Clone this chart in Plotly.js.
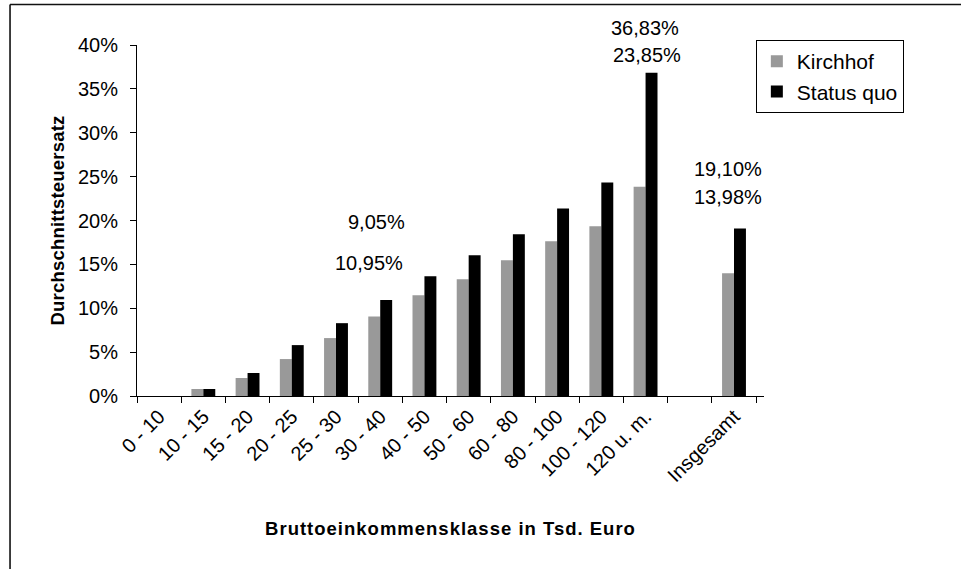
<!DOCTYPE html>
<html>
<head>
<meta charset="utf-8">
<script src="https://cdn.plot.ly/plotly-3.0.1.min.js"></script>
<style>
  html, body { margin: 0; padding: 0; background: #fff; }
  #chart { width: 961px; height: 569px; }
  #chart .xtitle { letter-spacing: 1px; }
  #chart .ytitle { letter-spacing: 0.2px; }
</style>
</head>
<body>
<div id="chart"></div>
<script>
// ---- data ----
const categories = ["0 - 10", "10 - 15", "15 - 20", "20 - 25", "25 - 30", "30 - 40",
                    "40 - 50", "50 - 60", "60 - 80", "80 - 100", "100 - 120", "120 u. m.",
                    " ", "Insgesamt"];
const kirchhof  = [0, 0.80, 2.05, 4.21, 6.60, 9.05, 11.49, 13.31, 15.47, 17.63, 19.34, 23.85, null, 13.98];
const statusQuo = [0, 0.80, 2.62, 5.80, 8.30, 10.95, 13.65, 16.04, 18.43, 21.38, 24.34, 36.83, null, 19.10];
const seriesNames = ["Kirchhof", "Status quo"];
const yTickVals = [0, 5, 10, 15, 20, 25, 30, 35, 40];
const yTickText = ["0%", "5%", "10%", "15%", "20%", "25%", "30%", "35%", "40%"];

// which data labels are shown (category index, series)
const labelled = [
  {cat: 5,  series: "K"}, {cat: 5,  series: "S"},
  {cat: 11, series: "S"}, {cat: 11, series: "K"},
  {cat: 13, series: "S"}, {cat: 13, series: "K"}
];
// label placement (as in the original Excel chart, labels float above the bars)
const labelPlacement = [
  {y: 19.8, xshift: -4}, {y: 15.15, xshift: -11},
  {y: 41.97, xshift: -1}, {y: 38.86, xshift: 1},
  {y: 25.87, xshift: -6}, {y: 22.65, xshift: -6}
];
const Y_MAX = 40;

const FONT = "'Liberation Sans', Arial, sans-serif";
const fmt = v => v.toFixed(2).replace('.', ',') + '%';

const traces = [
  {type: 'bar', name: seriesNames[0], x: categories, y: kirchhof,
   marker: {color: '#999999', line: {width: 0}}, hoverinfo: 'skip'},
  {type: 'bar', name: seriesNames[1], x: categories, y: statusQuo,
   marker: {color: '#000000', line: {width: 0}}, hoverinfo: 'skip'}
];

const annotations = labelled.map((l, i) => {
  const v = l.series === "K" ? kirchhof[l.cat] : statusQuo[l.cat];
  return {
    xref: 'x', yref: 'paper', x: categories[l.cat], y: labelPlacement[i].y / Y_MAX,
    xshift: labelPlacement[i].xshift,
    text: fmt(v), showarrow: false,
    font: {family: FONT, size: 20, color: '#000'},
    xanchor: 'center', yanchor: 'middle'
  };
});

const layout = {
  width: 961, height: 569,
  margin: {l: 137, r: 197, t: 45, b: 173, pad: 0},
  paper_bgcolor: '#ffffff', plot_bgcolor: '#ffffff',
  font: {family: FONT, color: '#000', size: 20},
  barmode: 'group', bargap: 0.46, bargroupgap: 0,
  showlegend: true,
  legend: {
    x: 0.987, y: 1.014, xanchor: 'left', yanchor: 'top',
    bordercolor: '#000', borderwidth: 1, bgcolor: '#fff',
    font: {family: FONT, size: 21, color: '#000'},
    tracegroupgap: 0, itemwidth: 30
  },
  xaxis: {
    type: 'category', categoryorder: 'array', categoryarray: categories,
    tickson: 'boundaries', ticks: 'outside', ticklen: 6, tickcolor: '#000', tickwidth: 1,
    tickangle: -45, tickfont: {family: FONT, size: 20, color: '#000'},
    showline: true, linecolor: '#000', linewidth: 1, showgrid: false, zeroline: false,
    automargin: false,
    title: {text: '<b>Bruttoeinkommensklasse in Tsd. Euro</b>',
            font: {family: FONT, size: 18.5, color: '#000'}, standoff: 36}
  },
  yaxis: {
    range: [0, Y_MAX], tickmode: 'array', tickvals: yTickVals, ticktext: yTickText,
    ticks: 'outside', ticklen: 6, tickcolor: '#000', tickwidth: 1,
    ticklabelstandoff: 8,
    tickfont: {family: FONT, size: 20, color: '#000'},
    showline: true, linecolor: '#000', linewidth: 1, showgrid: false, zeroline: false,
    automargin: false,
    title: {text: '<b>Durchschnittsteuersatz</b>',
            font: {family: FONT, size: 18.5, color: '#000'}, standoff: 8}
  },
  annotations: annotations,
  shapes: [
    {type: 'line', xref: 'paper', yref: 'paper', x0: -0.2025, x1: -0.2025, y0: 1.1154, y1: -0.7,
     line: {color: '#111', width: 1.6}},
    {type: 'line', xref: 'paper', yref: 'paper', x0: -0.2025, x1: 1.4, y0: 1.1154, y1: 1.1154,
     line: {color: '#111', width: 1.6}}
  ]
};

Plotly.newPlot('chart', traces, layout, {displayModeBar: false, staticPlot: true});
</script>
</body>
</html>
